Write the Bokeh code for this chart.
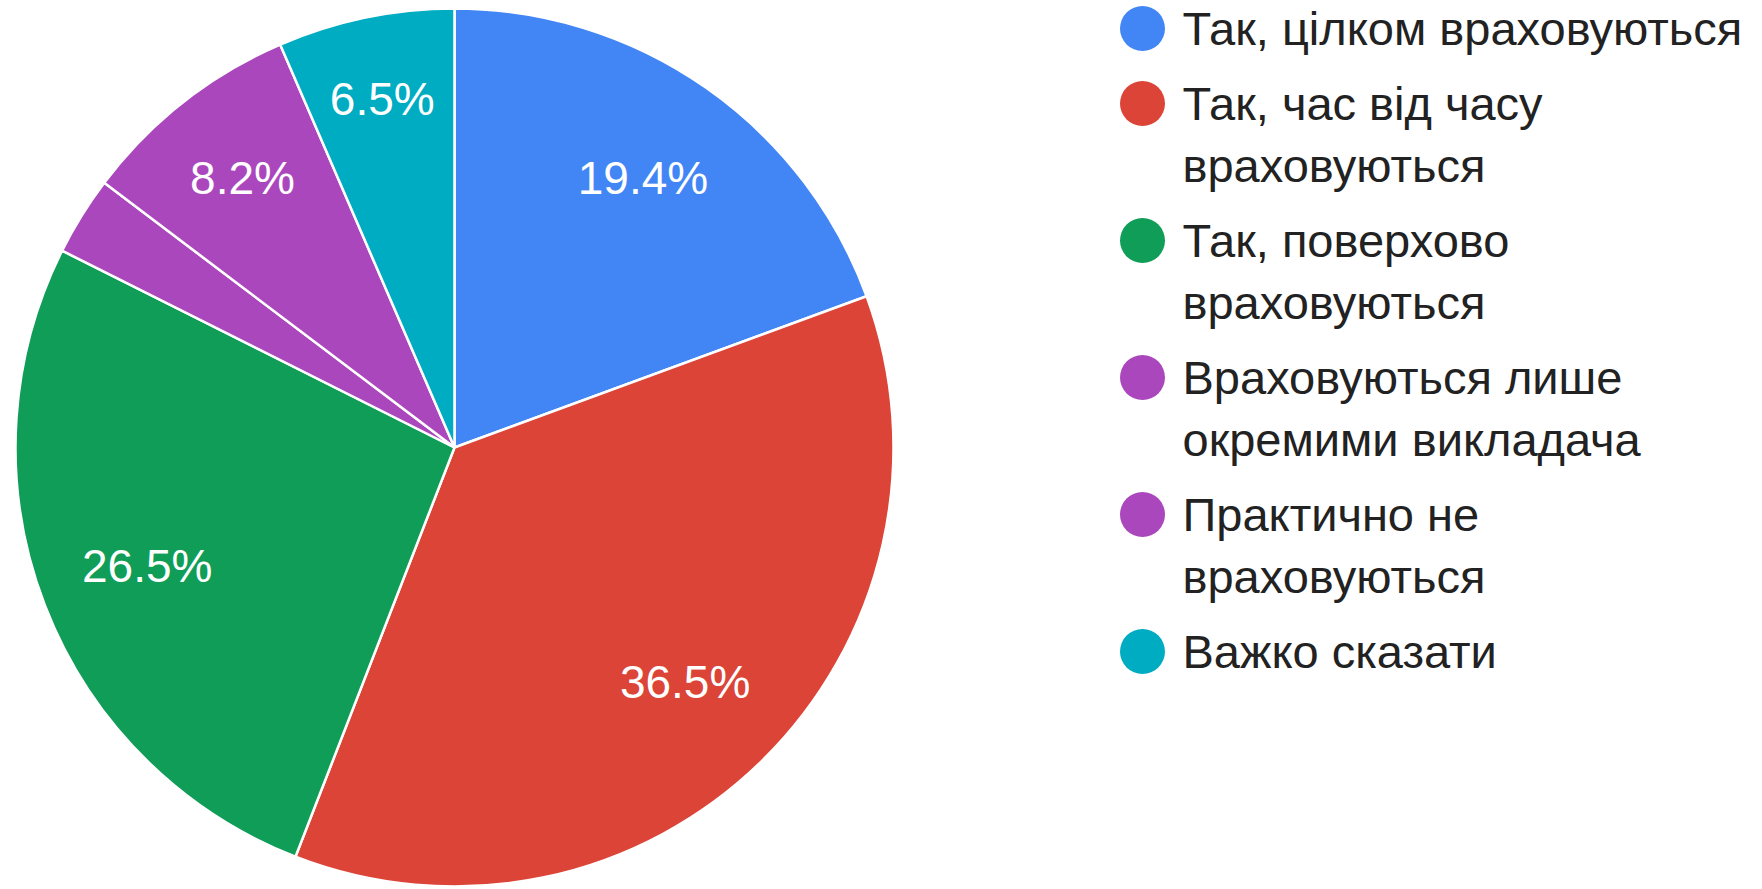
import textwrap
import numpy as np
from bokeh.plotting import figure
from bokeh.models import Range1d, ColumnDataSource
from bokeh.core.properties import value
from bokeh.embed import file_html
from bokeh.resources import INLINE

# ---- data ----
labels = [
    "Так, цілком враховуються",
    "Так, час від часу враховуються",
    "Так, поверхово враховуються",
    "Враховуються лише окремими викладача",
    "Практично не враховуються",
    "Важко сказати",
]
values = [19.4, 36.5, 26.5, 2.9, 8.2, 6.5]
colors = ["#4285F4", "#DB4437", "#0F9D58", "#AB47BC", "#AB47BC", "#00ACC1"]

# ---- layout ----
W, H = 1762, 889
FONT = "Liberation Sans"
FS = "46px"
LEG_FS = "47px"

p = figure(width=W, height=H, x_range=Range1d(0, W), y_range=Range1d(0, H),
           output_backend="svg", toolbar_location=None, min_border=0)
p.axis.visible = False
p.grid.visible = False
p.outline_line_color = None
p.background_fill_color = "white"

cx, cy, R = 454, H - 447, 439

vals = np.array(values, dtype=float)
frac = vals / vals.sum()
cum = np.concatenate([[0.0], np.cumsum(frac)])
start = np.pi / 2 - 2 * np.pi * cum[:-1]
end = np.pi / 2 - 2 * np.pi * cum[1:]

src = ColumnDataSource(dict(start=start, end=end, color=colors))
p.wedge(x=cx, y=cy, radius=R, start_angle="start", end_angle="end",
        direction="clock", fill_color="color", line_color="white",
        line_width=2.5, source=src)

# slice labels
lx, ly, lt = [], [], []
for i, f in enumerate(frac):
    if f < 0.05:
        continue
    mid = (cum[i] + cum[i + 1]) / 2
    th = np.pi / 2 - 2 * np.pi * mid
    rf = 0.75 + max(0.0, 0.10 - f) * 1.76
    lx.append(cx + R * rf * np.cos(th))
    ly.append(cy + R * rf * np.sin(th))
    lt.append(f"{values[i]:.1f}%")
p.text(x=lx, y=ly, text=lt, text_color="white", text_font=value(FONT),
       text_font_size=FS, text_align="center", text_baseline="middle")

# legend
mx, my, tx, ty, tt = [], [], [], [], []
cyl = 28
LH, GAP = 62, 75
for lab, col in zip(labels, colors):
    lines = textwrap.wrap(lab, 24)
    mx.append(1142)
    my.append(H - cyl)
    for j, ln in enumerate(lines):
        tx.append(1182)
        ty.append(H - (cyl + j * LH))
        tt.append(ln)
    cyl += (len(lines) - 1) * LH + GAP
p.scatter(x=mx, y=my, size=45, marker="circle", fill_color=colors, line_color=None)
p.text(x=tx, y=ty, text=tt, text_color="#222222", text_font=value(FONT),
       text_font_size=LEG_FS, text_align="left", text_baseline="middle")

open("out.html", "w").write(file_html(p, INLINE))
